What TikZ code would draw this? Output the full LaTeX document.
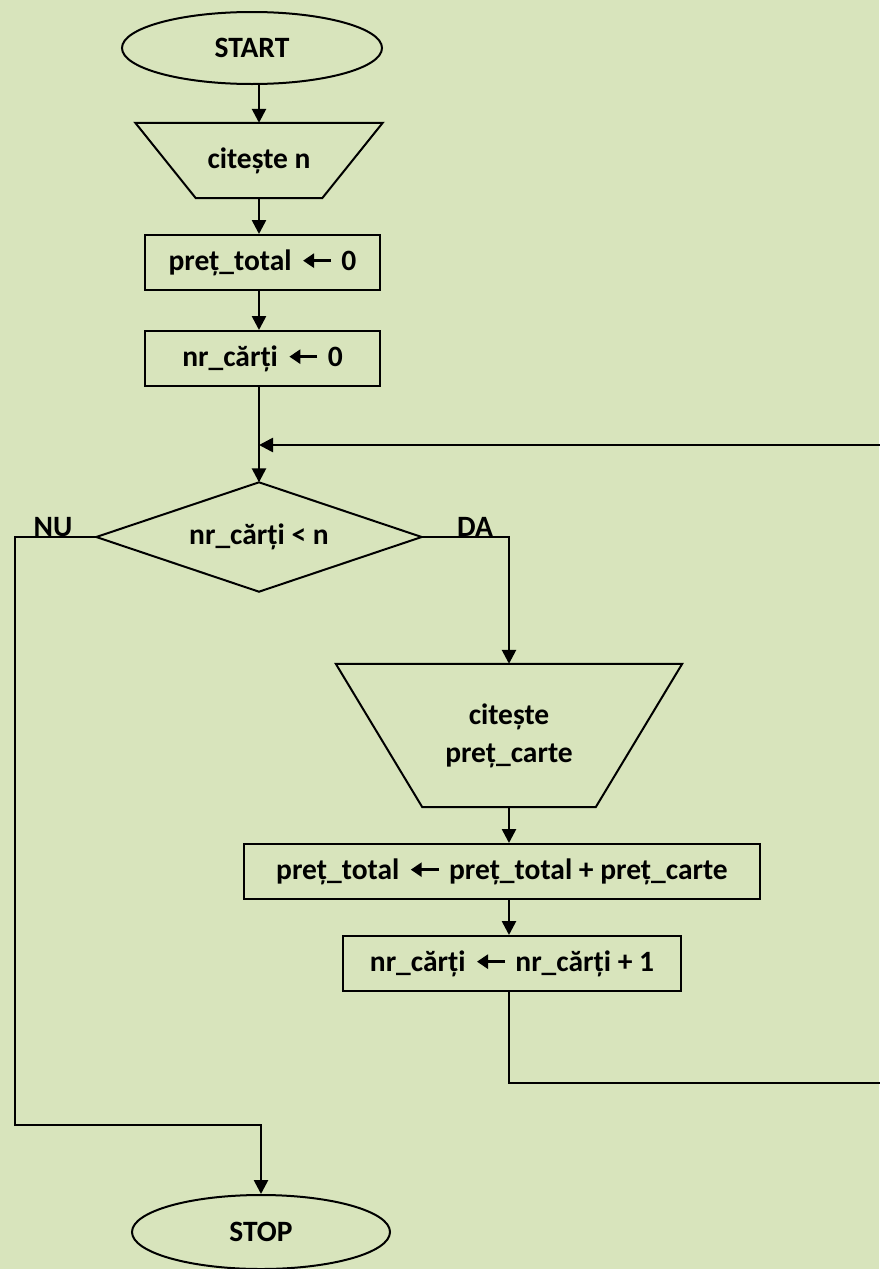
\documentclass[tikz,border=0pt]{standalone}
\usepackage{fontspec}
\setmainfont{Carlito}
\usetikzlibrary{shapes.geometric,arrows.meta}

\definecolor{bgolive}{RGB}{216,228,188}

% assignment arrow used inside the statements
\newsavebox\assignbox
\sbox\assignbox{\tikz[baseline=0pt]{\draw[line width=2.8pt,-{Triangle[length=11pt,width=14pt]}] (28pt,9.5pt) -- (0pt,9.5pt);}}
\newcommand\assign{\hspace{10pt}\usebox\assignbox\hspace{9pt}}

\begin{document}
\begin{tikzpicture}[x=1pt,y=-1pt,
  every node/.style={font=\fontsize{29.5}{38}\selectfont\bfseries, text=black},
  shapeline/.style={draw=black, line width=2pt},
  term/.style={shapeline, ellipse, inner sep=0pt},
  procbox/.style={shapeline, rectangle, minimum height=55pt, inner sep=0pt},
  frame/.style={rectangle, inner sep=0pt, align=center},
  flow/.style={draw=black, line width=2.6pt, -{Triangle[length=14pt,width=14pt]}},
  branch/.style={inner sep=0pt, anchor=base}]

  % background and page frame
  \fill[bgolive] (0,0) rectangle (879,1269);
  \useasboundingbox (0,0) rectangle (879,1269);

  % blocks
  \node[term, minimum width=260pt, minimum height=72pt] (start) at (252,48) {START};
  \node[frame, minimum width=247pt, minimum height=75pt] (read1) at (259,160.5) {citește n};
  \node[procbox, minimum width=235pt] (p0) at (262.5,262.5) {preț\_total\assign 0};
  \node[procbox, minimum width=235pt] (n0) at (262.5,358.5) {nr\_cărți\assign 0};
  \node[frame, minimum width=325pt, minimum height=109pt] (dec) at (259,537) {nr\_cărți < n};
  \node[frame, minimum width=346pt, minimum height=143pt] (read2) at (509,735.5) {citește\\preț\_carte};
  \node[procbox, minimum width=516pt] (p1) at (502,871.5) {preț\_total\assign preț\_total + preț\_carte};
  \node[procbox, minimum width=338pt] (n1) at (512,963.5) {nr\_cărți\assign nr\_cărți + 1};
  \node[term, minimum width=258pt, minimum height=74pt] (stop) at (261,1232) {STOP};

  % input blocks drawn as trapezia, wide side on top
  \draw[shapeline] (read1.north west) -- (read1.north east)
    -- ([xshift=-60.5pt]read1.south east) -- ([xshift=60.5pt]read1.south west) -- cycle;
  \draw[shapeline] (read2.north west) -- (read2.north east)
    -- ([xshift=-86.5pt]read2.south east) -- ([xshift=86.5pt]read2.south west) -- cycle;
  % decision block drawn as a rhombus
  \draw[shapeline] (dec.north) -- (dec.east) -- (dec.south) -- (dec.west) -- cycle;

  % branch labels
  \node[branch] (nu) at (53,536) {NU};
  \node[branch] (da) at (475,536) {DA};

  % helper points of the loop and the exit path
  \coordinate (merge) at (259,445);
  \coordinate (loopturn) at (890,1083);
  \coordinate (nuturn) at (15,1125);

  % connectors
  \draw[flow] (start.south -| dec.north) -- (read1.north);
  \draw[flow] (read1.south) -- (read1.south |- p0.north);
  \draw[flow] (dec.north |- p0.south) -- (dec.north |- n0.north);
  \draw[flow] (dec.north |- n0.south) -- (dec.north);
  \draw[flow] (dec.east) -| (read2.north);
  \draw[flow] (read2.south) -- (read2.south |- p1.north);
  \draw[flow] (read2.south |- p1.south) -- (read2.south |- n1.north);
  \draw[flow] (read2.south |- n1.south) |- (loopturn) |- (merge);
  \draw[flow] (dec.west) -| (nuturn) -| (stop.north);
\end{tikzpicture}
\end{document}
